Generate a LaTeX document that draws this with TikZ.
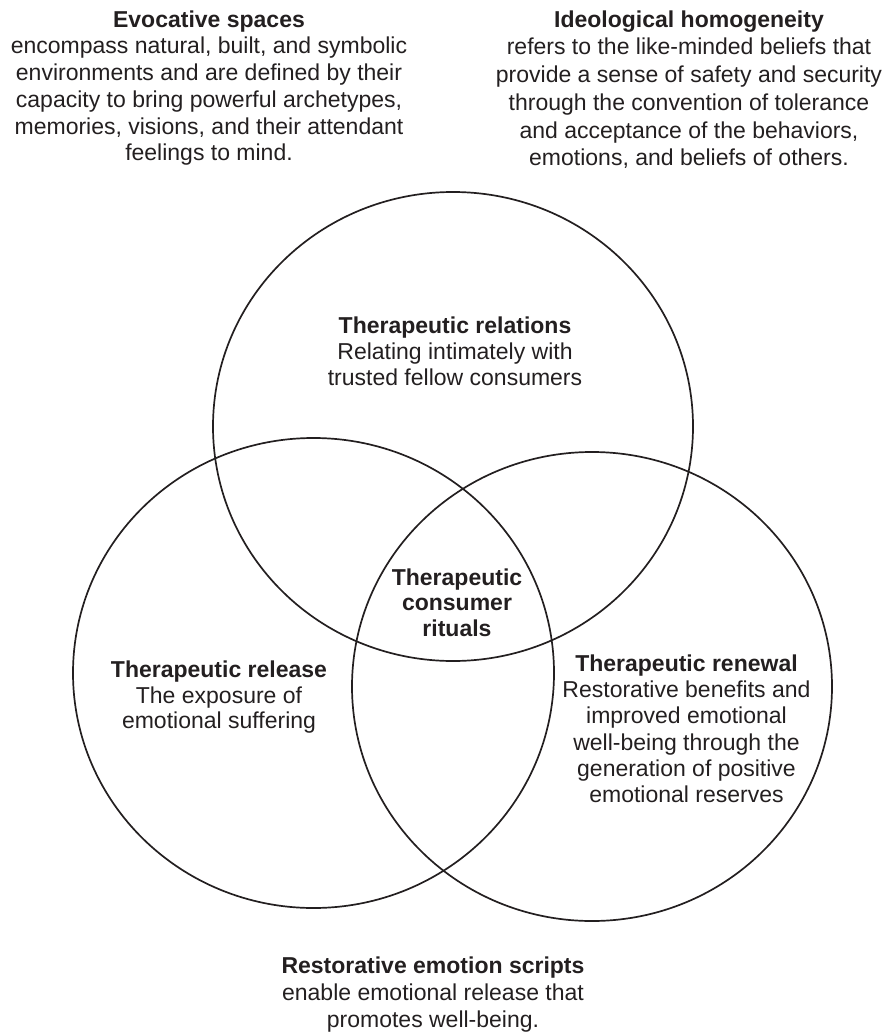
\documentclass[tikz,border=0pt]{standalone}
\usepackage{fontspec}
\setmainfont{Liberation Sans}
\definecolor{ink}{HTML}{231F20}
\begin{document}
\begin{tikzpicture}[x=1pt,y=-1pt,
  ring/.style={draw=ink,line width=1.7pt},
  blk/.style={anchor=north,align=center,inner sep=0pt,text=ink,font=\fontsize{23}{#1}\selectfont},
  blk/.default={26.5}]
\useasboundingbox (0,0) rectangle (885,1032);
% circles
\draw[ring] (453,426.5) ellipse [x radius=240pt, y radius=234.5pt];
\draw[ring] (313.5,673) ellipse [x radius=240.5pt, y radius=235pt];
\draw[ring] (592,686.5) ellipse [x radius=240pt, y radius=234.5pt];
% outer texts
\node[blk=26.7] (evoc) at (209,10.4) {\textbf{Evocative spaces}\\encompass natural, built, and symbolic\\environments and are defined by their\\capacity to bring powerful archetypes,\\memories, visions, and their attendant\\feelings to mind.};
\node[blk=27.7] (ideo) at (689,10.4) {\textbf{Ideological homogeneity}\\refers to the like-minded beliefs that\\provide a sense of safety and security\\through the convention of tolerance\\and acceptance of the behaviors,\\emotions, and beliefs of others.};
\node[blk=27] (scripts) at (433,956.4) {\textbf{Restorative emotion scripts}\\enable emotional release that\\promotes well-being.};
% circle texts
\node[blk=26] (relations) at (455,316.4) {\textbf{Therapeutic relations}\\Relating intimately with\\trusted fellow consumers};
\node[blk=25.5] (rituals) at (457,568.4) {\textbf{Therapeutic}\\\textbf{consumer}\\\textbf{rituals}};
\node[blk=25.5] (release) at (219,661.1) {\textbf{Therapeutic release}\\The exposure of\\emotional suffering};
\node[blk=26.3] (renewal) at (686.5,654.4) {\textbf{Therapeutic renewal}\\Restorative benefits and\\improved emotional\\well-being through the\\generation of positive\\emotional reserves};
\end{tikzpicture}
\end{document}
